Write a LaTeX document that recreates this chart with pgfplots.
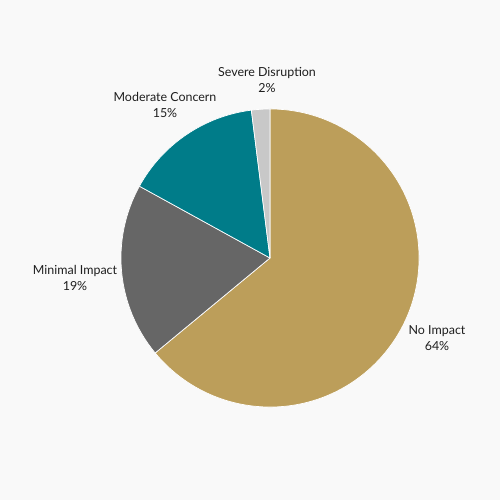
\documentclass[border=0pt]{standalone}
\usepackage{pgfplots}
\pgfplotsset{compat=1.18}
\usepackage{fontspec}
\setmainfont{Lato}
\definecolor{bg}{HTML}{F9F9F9}
\definecolor{cNo}{HTML}{BC9E5A}
\definecolor{cMin}{HTML}{666666}
\definecolor{cMod}{HTML}{007C89}
\definecolor{cSev}{HTML}{C8C8C8}
\begin{document}
\begin{tikzpicture}
\begin{axis}[
  scale only axis, width=361.35pt, height=361.35pt,
  xmin=0, xmax=500, ymin=0, ymax=500, y dir=reverse,
  hide axis, clip=false]
\fill[bg] (axis cs:0,0) rectangle (axis cs:500,500);
% value / cumulative before / colour
\foreach \v/\cu/\col in {64/0/cNo,19/64/cMin,15/83/cMod,2/98/cSev}{
  \pgfmathsetmacro{\sa}{90-3.6*\cu}
  \pgfmathsetmacro{\ea}{90-3.6*(\cu+\v)}
  \edef\temp{\noexpand\filldraw[fill=\col, draw=white, line width=0.5pt, line join=round]
    (axis cs:270,258) -- +(\sa:107.7pt) arc[start angle=\sa, end angle=\ea, radius=107.7pt] -- cycle;}
  \temp
}
\begin{scope}[font=\fontsize{9pt}{11pt}\selectfont, text=black!88]
\node[align=center] at (axis cs:267,80) {Severe Disruption\\2\%};
\node[align=center] at (axis cs:165,105) {Moderate Concern\\15\%};
\node[align=center] at (axis cs:75,278) {Minimal Impact\\19\%};
\node[align=center] at (axis cs:437,338) {No Impact\\64\%};
\end{scope}
\end{axis}
\end{tikzpicture}
\end{document}
